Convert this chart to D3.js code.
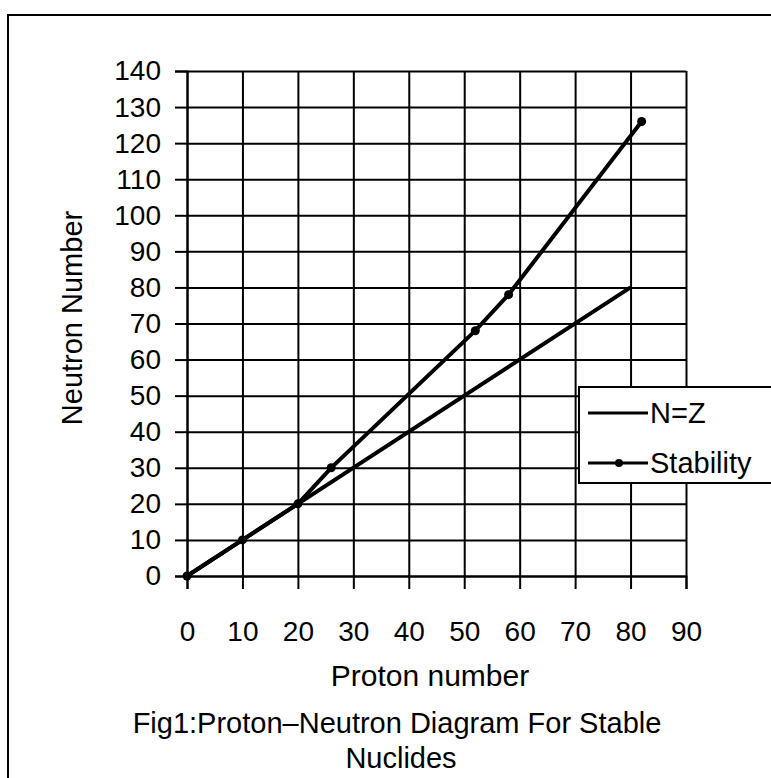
<!DOCTYPE html>
<html>
<head>
<meta charset="utf-8">
<script src="https://cdn.jsdelivr.net/npm/d3@7"></script>
<style>
  body { margin: 0; background: #fff; }
  svg { display: block; font-family: "Liberation Sans", Arial, sans-serif; }
</style>
</head>
<body>
<svg width="771" height="778"></svg>
<script>
// data
var protonTicks = [0, 10, 20, 30, 40, 50, 60, 70, 80, 90];
var neutronTicks = [0, 10, 20, 30, 40, 50, 60, 70, 80, 90, 100, 110, 120, 130, 140];
var nzZ = [0, 80];
var nzN = [0, 80];
var stabZ = [0, 10, 20, 26, 52, 58, 82];
var stabN = [0, 10, 20, 30, 68, 78, 126];
var seriesNames = ["N=Z", "Stability"];

function main() {
    var svg = d3.select("svg");

    // outer frame of the figure (runs off the right and bottom)
    svg.append("rect")
        .attr("x", 8).attr("y", 15)
        .attr("width", 800).attr("height", 800)
        .attr("fill", "none").attr("stroke", "#000").attr("stroke-width", 2);

    var pLeft = 187, pRight = 686, pTop = 71, pBottom = 576;

    var x = d3.scaleLinear().domain([0, 90]).range([pLeft, pRight]),
        y = d3.scaleLinear().domain([0, 140]).range([pBottom, pTop]);

    // grid
    svg.append("g")
        .attr("transform", "translate(0," + pBottom + ")")
        .call(d3.axisBottom(x).tickValues(protonTicks).tickSize(-(pBottom - pTop)).tickFormat(""))
        .call(function(g) {
            g.select(".domain").remove();
            g.selectAll("line").attr("stroke", "#000").attr("stroke-width", 2);
        });
    svg.append("g")
        .attr("transform", "translate(" + pLeft + ",0)")
        .call(d3.axisLeft(y).tickValues(neutronTicks).tickSize(-(pRight - pLeft)).tickFormat(""))
        .call(function(g) {
            g.select(".domain").remove();
            g.selectAll("line").attr("stroke", "#000").attr("stroke-width", 2);
        });

    // axes
    svg.append("g")
        .attr("transform", "translate(0," + pBottom + ")")
        .call(d3.axisBottom(x).tickValues(protonTicks).tickSize(13).tickPadding(32))
        .call(function(g) {
            g.select(".domain").attr("stroke-width", 2);
            g.selectAll("line").attr("stroke-width", 2);
            g.selectAll("text").attr("font-size", 28).attr("fill", "#000")
                .attr("font-family", "Liberation Sans, Arial, sans-serif");
        });
    svg.append("g")
        .attr("transform", "translate(" + pLeft + ",0)")
        .call(d3.axisLeft(y).tickValues(neutronTicks).tickSize(12).tickPadding(14))
        .call(function(g) {
            g.select(".domain").attr("stroke-width", 2);
            g.selectAll("line").attr("stroke-width", 2);
            g.selectAll("text").attr("font-size", 28).attr("fill", "#000")
                .attr("font-family", "Liberation Sans, Arial, sans-serif");
        });

    // series
    var line = d3.line().x(function(d) { return x(d[0]); }).y(function(d) { return y(d[1]); });

    svg.append("path")
        .datum(d3.zip(nzZ, nzN))
        .attr("d", line)
        .attr("fill", "none").attr("stroke", "#000").attr("stroke-width", 4);

    var stab = d3.zip(stabZ, stabN);
    svg.append("path")
        .datum(stab)
        .attr("d", line)
        .attr("fill", "none").attr("stroke", "#000").attr("stroke-width", 4);

    svg.selectAll(".dot")
        .data(stab)
        .enter().append("circle")
        .attr("class", "dot")
        .attr("cx", function(d) { return x(d[0]); })
        .attr("cy", function(d) { return y(d[1]); })
        .attr("r", 4.5)
        .attr("fill", "#000");

    // titles
    svg.append("text")
        .attr("transform", "translate(82,318) rotate(-90)")
        .attr("text-anchor", "middle")
        .attr("font-size", 29)
        .text("Neutron Number");

    svg.append("text")
        .attr("x", 430).attr("y", 686)
        .attr("text-anchor", "middle")
        .attr("font-size", 30)
        .text("Proton number");

    svg.append("text")
        .attr("x", 397).attr("y", 733)
        .attr("text-anchor", "middle")
        .attr("font-size", 29)
        .text("Fig1:Proton\u2013Neutron Diagram For Stable");
    svg.append("text")
        .attr("x", 401).attr("y", 768)
        .attr("text-anchor", "middle")
        .attr("font-size", 29)
        .text("Nuclides");

    // legend
    var legend = svg.append("g");
    legend.append("rect")
        .attr("x", 579).attr("y", 387)
        .attr("width", 220).attr("height", 96)
        .attr("fill", "#fff").attr("stroke", "#000").attr("stroke-width", 2);

    var items = legend.selectAll(".item")
        .data(seriesNames)
        .enter().append("g")
        .attr("transform", function(d, i) { return "translate(588," + (413 + i * 50) + ")"; });

    items.append("line")
        .attr("x1", 0).attr("x2", 60)
        .attr("stroke", "#000").attr("stroke-width", 3);
    items.filter(function(d, i) { return i === 1; })
        .append("circle")
        .attr("cx", 31).attr("r", 4).attr("fill", "#000");
    items.append("text")
        .attr("x", 62).attr("dy", "0.35em")
        .attr("font-size", 29)
        .text(function(d) { return d; });
}
main();
</script>
</body>
</html>
